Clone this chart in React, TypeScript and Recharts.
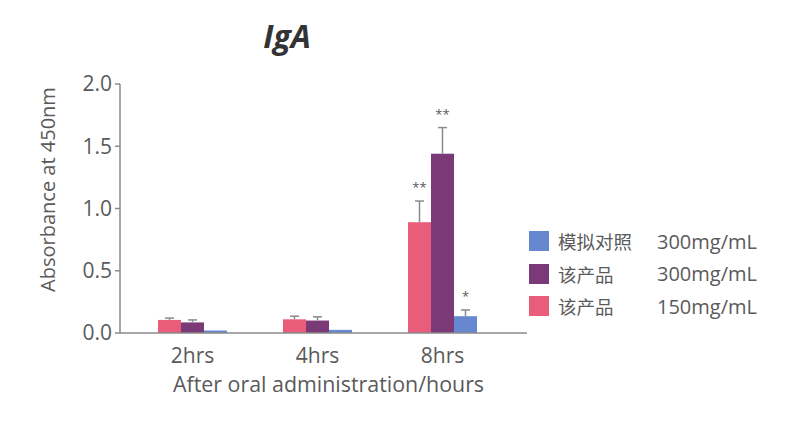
import React from 'react';
import { BarChart, Bar, XAxis, YAxis } from 'recharts';

const categories = ['2hrs', '4hrs', '8hrs'];
const low150 = [0.105, 0.11, 0.89];
const low150Err = [0.015, 0.025, 0.17];
const low150Sig = ['', '', '**'];
const high300 = [0.085, 0.1, 1.44];
const high300Err = [0.02, 0.03, 0.21];
const high300Sig = ['', '', '**'];
const control = [0.02, 0.025, 0.135];
const controlErr = [0, 0, 0.05];
const controlSig = ['', '', '*'];
const yTicks = [0, 0.5, 1.0, 1.5, 2.0];

const PINK = '#E95D7B';
const PURPLE = '#7A3A78';
const BLUE = '#6787D0';
const GRAY = '#8a8a8a';
const TEXT = '#5a5a5a';
const FONT = '"Open Sans", "Noto Sans", sans-serif';
const CJK = '"Noto Sans CJK SC", "Noto Sans", sans-serif';

const data = categories.map((c, i) => ({
  cat: c,
  low: low150[i], lowErr: low150Err[i], lowSig: low150Sig[i],
  high: high300[i], highErr: high300Err[i], highSig: high300Sig[i],
  ctrl: control[i], ctrlErr: controlErr[i], ctrlSig: controlSig[i],
}));

const legendItems = [
  { color: BLUE, name: '模拟对照', dose: '300mg/mL' },
  { color: PURPLE, name: '该产品', dose: '300mg/mL' },
  { color: PINK, name: '该产品', dose: '150mg/mL' },
];

function makeShape(valKey: string, errKey: string, sigKey: string) {
  return (props: any) => {
    const { x, y, width, height, fill, payload } = props;
    const v = payload[valKey];
    const e = payload[errKey];
    const sig = payload[sigKey];
    const ppu = v > 0 ? height / v : 0;
    const cx = x + width / 2;
    const top = y - e * ppu;
    return (
      <g>
        <rect x={x} y={y} width={width} height={height} fill={fill} />
        {e > 0 && (
          <g stroke={GRAY} strokeWidth={1.5}>
            <line x1={cx} y1={y} x2={cx} y2={top} />
            <line x1={cx - 4.5} y1={top} x2={cx + 4.5} y2={top} />
          </g>
        )}
        {sig && (
          <text x={cx} y={top - 9} textAnchor="middle" fill={TEXT} fontSize={13} fontFamily={FONT}>
            {sig}
          </text>
        )}
      </g>
    );
  };
}

const yLabel = (props: any) => {
  const vb = props.viewBox || {};
  const cx = 47;
  const cy = vb.y + vb.height / 2 - 19;
  return (
    <text
      x={cx}
      y={cy}
      transform={`rotate(-90 ${cx} ${cy})`}
      textAnchor="middle"
      dominantBaseline="central"
      fill={TEXT}
      fontSize={20}
      fontFamily={FONT}
    >
      Absorbance at 450nm
    </text>
  );
};

export default function App() {
  return (
    <div style={{ position: 'absolute', left: 0, top: 0, width: 800, height: 428, background: '#fff' }}>
      <div
        style={{
          position: 'absolute', left: 237, width: 100, top: 14, textAlign: 'center',
          fontFamily: FONT, fontWeight: 700, fontStyle: 'italic', fontSize: 32, color: '#333',
        }}
      >
        IgA
      </div>
      <div style={{ position: 'absolute', left: 529, top: 225, fontFamily: FONT }}>
        {legendItems.map((it, i) => (
          <div key={i} style={{ display: 'flex', alignItems: 'center', height: 32.5 }}>
            <div style={{ width: 20, height: 20, background: it.color, marginRight: 9 }} />
            <div style={{ width: 99, fontFamily: CJK, fontSize: 18.5, color: TEXT }}>{it.name}</div>
            <div style={{ fontSize: 20, color: TEXT }}>{it.dose}</div>
          </div>
        ))}
      </div>
      <BarChart
        width={800}
        height={428}
        data={data}
        margin={{ top: 84, right: 273, bottom: 65, left: 0 }}
        barCategoryGap={28}
        barGap={0}
      >
        <XAxis
          dataKey="cat"
          height={30}
          padding={{ left: 10, right: 22 }}
          axisLine={{ stroke: GRAY, strokeWidth: 1.5 }}
          tickLine={false}
          tick={{ fill: TEXT, fontSize: 21, fontFamily: FONT }}
          tickMargin={9}
          label={{ value: 'After oral administration/hours', position: 'insideBottom', offset: -29, dx: 5, fill: TEXT, fontSize: 21.4, fontFamily: FONT }}
        />
        <YAxis
          width={120}
          domain={[0, 2]}
          ticks={yTicks}
          interval={0}
          tickFormatter={(v: number) => v.toFixed(1)}
          axisLine={{ stroke: GRAY, strokeWidth: 1.5 }}
          tickLine={{ stroke: GRAY, strokeWidth: 1.5 }}
          tickSize={5}
          tick={{ fill: TEXT, fontSize: 21, fontFamily: FONT }}
          tickMargin={3}
          label={yLabel}
        />
        <Bar dataKey="low" fill={PINK} isAnimationActive={false} shape={makeShape('low', 'lowErr', 'lowSig')} />
        <Bar dataKey="high" fill={PURPLE} isAnimationActive={false} shape={makeShape('high', 'highErr', 'highSig')} />
        <Bar dataKey="ctrl" fill={BLUE} isAnimationActive={false} shape={makeShape('ctrl', 'ctrlErr', 'ctrlSig')} />
      </BarChart>
    </div>
  );
}
